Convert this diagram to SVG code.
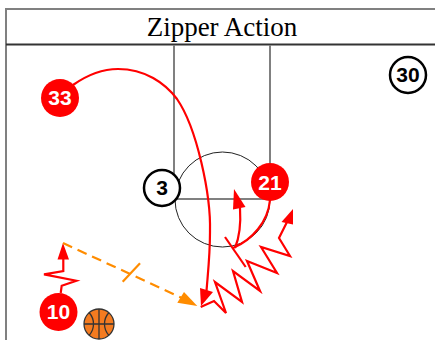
<svg xmlns="http://www.w3.org/2000/svg" width="435" height="340" viewBox="0 0 435 340">
<style>
.court{fill:none;stroke:#808080;stroke-width:2}
.thin{fill:none;stroke:#222;stroke-width:1}
.move{fill:none;stroke:#f00;stroke-width:2.200}
.pass{fill:none;stroke:#ff8c00;stroke-width:2.200}
.head{fill:#f00;stroke:none}
.p{font-family:"Liberation Sans",Arial,sans-serif;font-weight:700;font-size:21px;text-anchor:middle}
.ball{fill:none;stroke:#333;stroke-width:1.300}
.o{fill:#fff;stroke:#000;stroke-width:2.500}
</style>
<rect width="435" height="340" fill="#fff"/>
<g id="court">
<path class="court" d="M6 340V9H435"/>
<path d="M6 44.500H435" fill="none" stroke="#333" stroke-width="2"/>
<path class="court" d="M174 45V199H270V45"/>
<circle class="thin" cx="222.500" cy="199.500" r="47.500"/>
<text x="222" y="35.500" font-family="'Liberation Serif','Times New Roman',serif" font-size="27" text-anchor="middle" fill="#000">Zipper Action</text>
</g>
<g id="connectors">
<path class="move" d="M73 85C90 73 105 69 118 69C145 69 165 83 177 99C197 128 211 195 210 232C210 255 208 272 206.500 291"/>
<polygon class="head" points="200,288 213,292 201,306"/>
<path class="move" d="M270 200C268 222 252 240 233 248"/>
<path class="move" d="M225 237L245.700 267"/>
<path class="move" d="M235 248C240 236 241 224 240 208"/>
<polygon class="head" points="234,189 233,209.500 245.500,207"/>
<path class="move" d="M200.700 307L214 301L226 313L215 282L242 302L233 271L260 291L247 261L277 273L261 247L290 256L279 238L287 222"/>
<polygon class="head" points="293,209 281.500,222 293,224.500"/>
<path class="move" d="M60.700 293L61.700 285.700L76.300 280.700L44 274.300L63.300 271V258"/>
<polygon class="head" points="63,243 57.500,259.500 69,259.500"/>
<path class="pass" stroke-dasharray="10 6" d="M63 243L182 298"/>
<path class="pass" d="M140 263.300L122.700 281.700"/>
<polygon points="197.300,306 177.300,302.700 184,292" fill="#ff8c00"/>
</g>
<g id="player-33"><circle cx="60" cy="98" r="19" fill="#f00"/><text class="p" x="60" y="105" fill="#fff">33</text></g>
<g id="player-3"><circle class="o" cx="162" cy="188" r="18"/><text class="p" x="162" y="194.500" fill="#000">3</text></g>
<g id="player-21"><circle cx="270" cy="182" r="19" fill="#f00"/><text class="p" x="270" y="189.500" fill="#fff">21</text></g>
<g id="player-30"><circle class="o" cx="408" cy="75" r="18"/><text class="p" x="408" y="81.500" fill="#000">30</text></g>
<g id="player-10"><circle cx="58.500" cy="312" r="19" fill="#f00"/><text class="p" x="58.500" y="318.500" fill="#fff">10</text></g>
<g id="ball">
<circle cx="99" cy="324" r="15" fill="#f47b20" stroke="#333" stroke-width="1.300"/>
<path class="ball" d="M84 324H114M99 309V339M89 312.500C95 319 95 329 89 335.500M109 312.500C103 319 103 329 109 335.500"/>
</g>
</svg>
